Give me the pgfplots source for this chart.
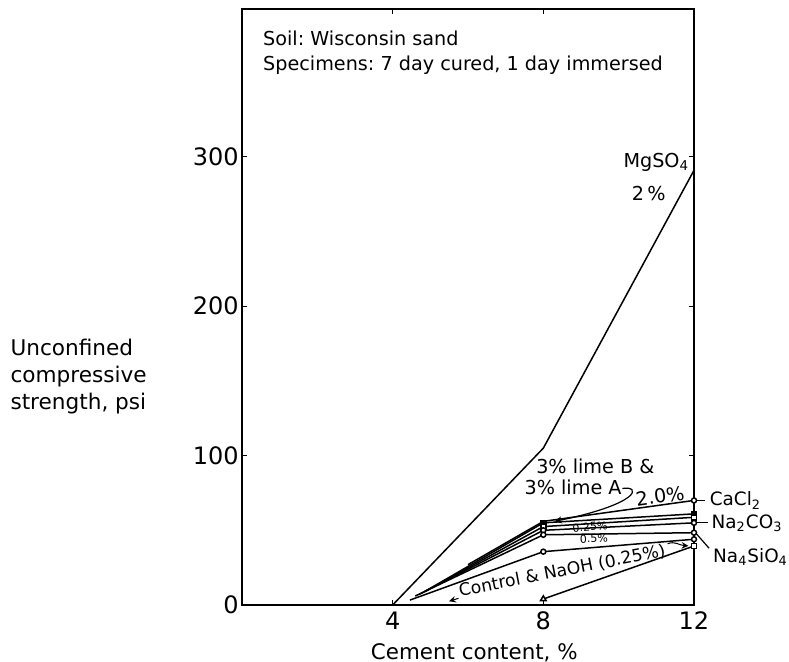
\documentclass[border=0pt]{standalone}
\usepackage{pgfplots}
\pgfplotsset{compat=1.18}
\usepackage{fontspec}
\setmainfont{DejaVu Sans}

\begin{document}
\begin{tikzpicture}[font=\fontsize{9.6}{12}\selectfont]
\begin{axis}[
  scale only axis, width=226pt, height=298pt,
  xmin=0, xmax=12, ymin=0, ymax=399,
  xtick={4,8,12}, ytick={0,100,200,300},
  /pgf/number format/assume math mode=true,
  tick label style={font=\fontsize{12}{14}\selectfont},
  yticklabel style={inner sep=1.5pt},
  major tick length=2.5pt,
  tick style={black, line width=0.6pt},
  axis line style={line width=0.9pt},
  clip=false,
  every axis plot/.append style={line width=0.75pt, black},
  mark size=1.25pt,
]
% MgSO4 2%
\addplot[mark=none] coordinates {(4,0) (8,105) (12,291)};
% CaCl2 2.0%
\addplot[mark=*, mark options={fill=white}, mark indices={3}] coordinates {(6.0,27) (8,56) (12,70)};
% 3% lime B
\addplot[mark=square*, mark options={fill=black}, mark indices={2,3}] coordinates {(4.85,9) (8,55) (12,61)};
% 3% lime A
\addplot[mark=square*, mark options={fill=white}, mark indices={2,3}] coordinates {(4.85,9) (8,52.5) (12,58.7)};
% Na2CO3 0.25%
\addplot[mark=*, mark options={fill=white}, mark indices={2,3}] coordinates {(4.7,7) (8,50) (12,55)};
% Na4SiO4 0.5%
\addplot[mark=*, mark options={fill=white}, mark indices={2,3}] coordinates {(4.6,6) (8,47) (12,48.4)};
% Control
\addplot[mark=*, mark options={fill=white}, mark indices={2,3}] coordinates {(4.46,3.3) (8,35.7) (12,44)};
% NaOH 0.25%
\addplot[mark=none] coordinates {(8,4) (12,39.5)};
\addplot[only marks, mark=triangle*, mark options={fill=white}, mark size=1.6pt] coordinates {(8,4)};
\addplot[only marks, mark=square*, mark options={fill=white}] coordinates {(12,39.5)};

% frame of the page
\coordinate (bbl) at (rel axis cs:-0.5354,-0.0956);
\coordinate (btr) at (rel axis cs:1.2102,1.0151);

% notes in the upper left
\node[anchor=west, inner sep=0pt] at (rel axis cs:0.046,0.951) {Soil:\ Wisconsin sand};
\node[anchor=west, inner sep=0pt] at (rel axis cs:0.046,0.906) {Specimens:\ 7 day cured, 1 day immersed};

% axis titles
\node[anchor=west, align=left, inner sep=0pt, font=\fontsize{10.8}{13.5}\selectfont] at (rel axis cs:-0.513,0.3826) {Unconfined\\compressive\\strength, psi};
\node[font=\fontsize{10.7}{13}\selectfont] at (rel axis cs:0.514,-0.0805) {Cement content, \%};

% curve labels
\node at (axis cs:11.0,296) {MgSO\textsubscript{4}};
\node at (axis cs:10.8,275.6) {2\,\%};
\node at (axis cs:9.38,93) {3\% lime B \&};
\node at (axis cs:8.79,79) {3\% lime A};
\draw[->, line width=0.6pt, >=stealth] (axis cs:10.1,78) .. controls (axis cs:10.6,80) and (axis cs:10.6,68) .. (axis cs:8.3,56);
\node[rotate=8, inner sep=1pt] at (axis cs:11.1,73) {2.0\%};
\node[rotate=5, inner sep=0.3pt, font=\fontsize{5.5}{6}\selectfont] at (axis cs:9.24,52.4) {0.25\%};
\node[rotate=3, inner sep=0.3pt, font=\fontsize{5.5}{6}\selectfont] at (axis cs:9.34,44.6) {0.5\%};
\node[rotate=11, font=\fontsize{8.6}{10}\selectfont] at (axis cs:8.5,22.7) {Control \& NaOH (0.25\%)};
\draw[->, line width=0.5pt, >=stealth] (axis cs:5.75,4.5) -- (axis cs:5.5,2.5);
\draw[->, line width=0.5pt, >=stealth] (axis cs:11.3,41) .. controls (axis cs:11.5,43) and (axis cs:11.6,40) .. (axis cs:11.85,39.6);

% names at the right edge
\begin{scope}[font=\fontsize{9.2}{11}\selectfont]
\draw[line width=0.6pt] (axis cs:12.08,70) -- (axis cs:12.3,70);
\node[anchor=west, inner sep=1.5pt] at (axis cs:12.33,70) {CaCl\textsubscript{2}};
\draw[line width=0.6pt] (axis cs:12.08,55) -- (axis cs:12.36,55);
\node[anchor=west, inner sep=1.5pt] at (axis cs:12.38,54.6) {Na\textsubscript{2}CO\textsubscript{3}};
\draw[line width=0.6pt] (axis cs:12.07,47.5) -- (axis cs:12.4,38);
\node[anchor=west, inner sep=1.5pt] at (axis cs:12.42,32) {Na\textsubscript{4}SiO\textsubscript{4}};
\end{scope}
\end{axis}
\pgfresetboundingbox
\path[use as bounding box] (bbl) rectangle (btr);
\end{tikzpicture}
\end{document}
